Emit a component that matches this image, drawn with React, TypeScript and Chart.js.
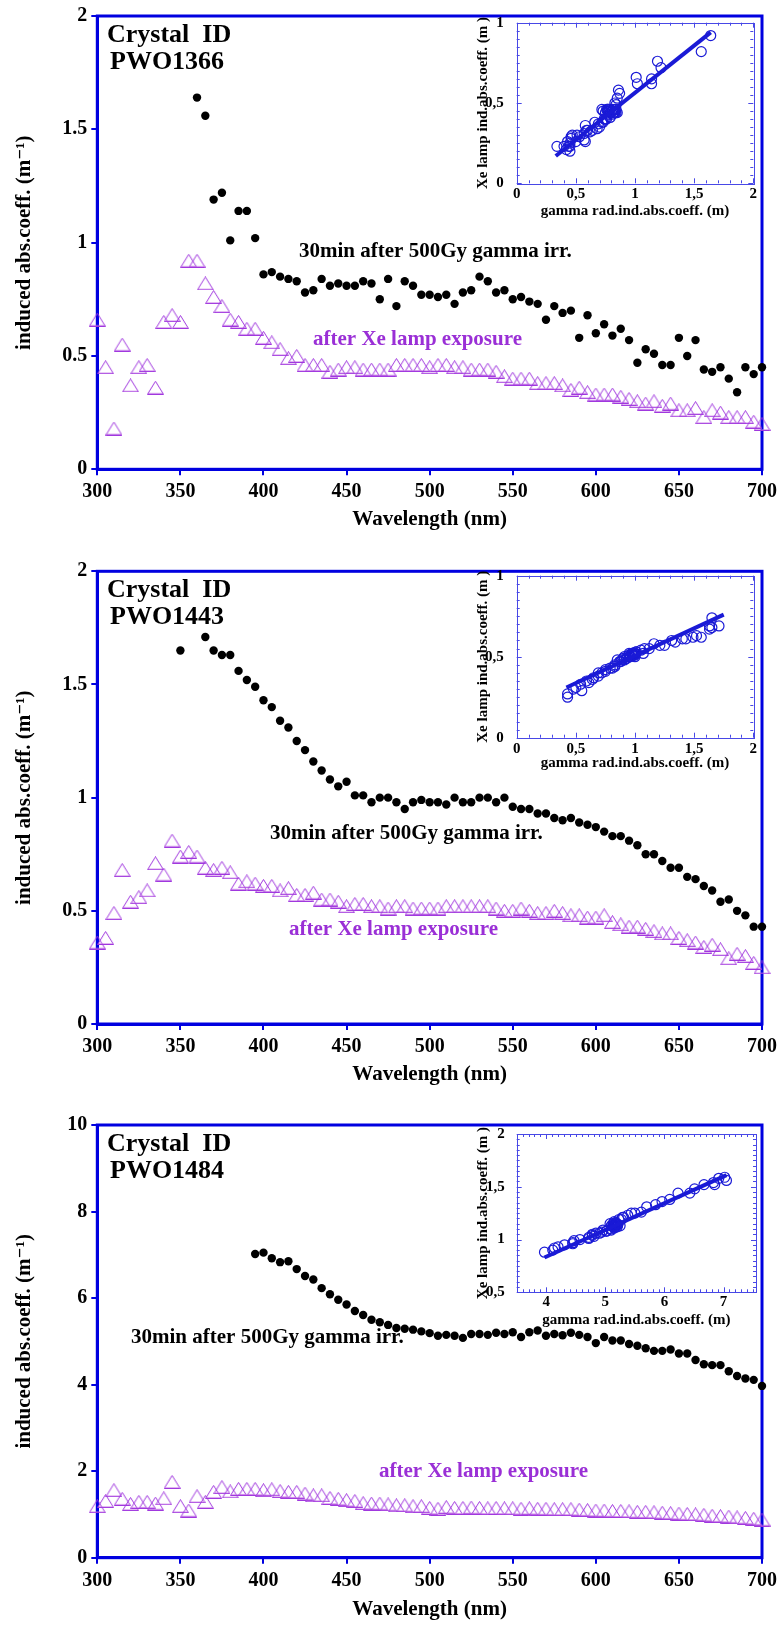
import React, { useEffect, useRef } from 'react';
import { Chart, registerables } from 'chart.js';

Chart.register(...registerables);

const FONT = "'Liberation Serif', 'DejaVu Serif', serif";
const BLUE = '#0000E0';
const PURPLE = '#A038DE';
const PURPLE_TEXT = '#9A2FD6';
const INSET_BLUE = '#1A1AD6';
const INSET_FRAME = '#4848E6';

// ---------- tick labels ----------
const wavelengthTicks = [300, 350, 400, 450, 500, 550, 600, 650, 700];
const yTicksSmall = [0, 0.5, 1, 1.5, 2];
const yTicksLarge = [0, 2, 4, 6, 8, 10];
const insetXTicksA = [0, 0.5, 1, 1.5, 2];
const insetYTicksA = [0, 0.5, 1];
const insetXTicksC = [4, 5, 6, 7];
const insetYTicksC = [0.5, 1, 1.5, 2];

// ---------- categories (wavelength grid, nm) ----------
const STEP_NM = 5;

// ---------- PWO1366 ----------
const gamma1Start = 360;
const gamma1 = [
  1.64, 1.56, 1.19, 1.22, 1.01, 1.14, 1.14, 1.02, 0.86, 0.87,
  0.85, 0.84, 0.83, 0.78, 0.79, 0.84, 0.81, 0.82, 0.81, 0.81,
  0.83, 0.82, 0.75, 0.84, 0.72, 0.83, 0.81, 0.77, 0.77, 0.76,
  0.77, 0.73, 0.78, 0.79, 0.85, 0.83, 0.78, 0.79, 0.75, 0.76,
  0.74, 0.73, 0.66, 0.72, 0.69, 0.70, 0.58, 0.68, 0.60, 0.64,
  0.59, 0.62, 0.57, 0.47, 0.53, 0.51, 0.46, 0.46, 0.58, 0.50,
  0.57, 0.44, 0.43, 0.45, 0.40, 0.34, 0.45, 0.42, 0.45,
];
const xe1Start = 300;
const xe1 = [
  0.66, 0.45, 0.18, 0.55, 0.37, 0.45, 0.46, 0.36, 0.65, 0.68,
  0.65, 0.92, 0.92, 0.82, 0.76, 0.72, 0.66, 0.65, 0.62, 0.62,
  0.58, 0.56, 0.53, 0.49, 0.50, 0.46, 0.46, 0.46, 0.43, 0.44,
  0.45, 0.45, 0.44, 0.44, 0.44, 0.44, 0.46, 0.46, 0.46, 0.46,
  0.45, 0.46, 0.46, 0.45, 0.45, 0.44, 0.44, 0.44, 0.43, 0.41,
  0.40, 0.40, 0.40, 0.38, 0.38, 0.38, 0.37, 0.35, 0.36, 0.34,
  0.33, 0.33, 0.33, 0.32, 0.31, 0.30, 0.29, 0.30, 0.28, 0.29,
  0.26, 0.26, 0.27, 0.23, 0.26, 0.25, 0.23, 0.23, 0.23, 0.21,
  0.20,
];
const fit1X = [0.33, 1.64];
const fit1Y = [0.17, 0.94];

// ---------- PWO1443 ----------
const gamma2Start = 350;
const gamma2 = [
  1.65, null, null, 1.71, 1.65, 1.63, 1.63, 1.56, 1.52, 1.49,
  1.43, 1.40, 1.34, 1.31, 1.25, 1.21, 1.16, 1.12, 1.08, 1.05,
  1.07, 1.01, 1.01, 0.98, 1.00, 1.00, 0.98, 0.95, 0.98, 0.99,
  0.98, 0.98, 0.97, 1.00, 0.98, 0.98, 1.00, 1.00, 0.98, 1.00,
  0.96, 0.95, 0.95, 0.93, 0.93, 0.91, 0.90, 0.91, 0.89, 0.88,
  0.87, 0.85, 0.83, 0.83, 0.81, 0.79, 0.75, 0.75, 0.72, 0.69,
  0.69, 0.65, 0.64, 0.61, 0.59, 0.54, 0.55, 0.50, 0.48, 0.43,
  0.43,
];
const xe2Start = 300;
const xe2 = [
  0.36, 0.38, 0.49, 0.68, 0.54, 0.56, 0.59, 0.71, 0.66, 0.81,
  0.74, 0.76, 0.74, 0.69, 0.68, 0.69, 0.67, 0.62, 0.63, 0.62,
  0.61, 0.61, 0.59, 0.60, 0.57, 0.57, 0.58, 0.55, 0.55, 0.54,
  0.52, 0.53, 0.53, 0.52, 0.52, 0.51, 0.52, 0.52, 0.51, 0.51,
  0.51, 0.51, 0.52, 0.52, 0.52, 0.52, 0.52, 0.52, 0.51, 0.50,
  0.50, 0.51, 0.50, 0.49, 0.49, 0.50, 0.49, 0.48, 0.48, 0.47,
  0.47, 0.48, 0.45, 0.44, 0.43, 0.43, 0.42, 0.41, 0.40, 0.40,
  0.38, 0.37, 0.36, 0.34, 0.35, 0.33, 0.29, 0.31, 0.30, 0.27,
  0.25,
];
const fit2X = [0.42, 1.75];
const fit2Y = [0.31, 0.76];

// ---------- PWO1484 ----------
const gamma3Start = 395;
const gamma3 = [
  7.02, 7.05, 6.92, 6.83, 6.85, 6.67, 6.51, 6.43, 6.23, 6.09,
  5.96, 5.85, 5.70, 5.61, 5.50, 5.44, 5.38, 5.31, 5.29, 5.27,
  5.23, 5.19, 5.13, 5.15, 5.13, 5.08, 5.17, 5.17, 5.15, 5.20,
  5.17, 5.21, 5.10, 5.21, 5.25, 5.13, 5.17, 5.14, 5.20, 5.15,
  5.10, 4.96, 5.10, 5.02, 5.02, 4.94, 4.90, 4.84, 4.78, 4.78,
  4.81, 4.72, 4.72, 4.57, 4.47, 4.45, 4.45, 4.31, 4.20, 4.14,
  4.11, 3.97,
];
const xe3Start = 300;
const xe3 = [
  1.19, 1.31, 1.56, 1.36, 1.24, 1.29, 1.29, 1.25, 1.37, 1.75,
  1.19, 1.09, 1.42, 1.29, 1.52, 1.63, 1.53, 1.59, 1.59, 1.59,
  1.56, 1.58, 1.54, 1.52, 1.52, 1.48, 1.44, 1.44, 1.38, 1.36,
  1.33, 1.31, 1.26, 1.25, 1.25, 1.23, 1.21, 1.21, 1.19, 1.19,
  1.15, 1.13, 1.17, 1.15, 1.15, 1.16, 1.15, 1.14, 1.15, 1.14,
  1.14, 1.13, 1.14, 1.13, 1.13, 1.12, 1.12, 1.12, 1.11, 1.10,
  1.09, 1.09, 1.08, 1.08, 1.07, 1.06, 1.06, 1.05, 1.04, 1.03,
  1.02, 1.01, 1.00, 0.99, 0.97, 0.96, 0.95, 0.93, 0.92, 0.90,
  0.88,
];
const fit3X = [3.97, 7.05];
const fit3Y = [0.83, 1.61];

// ---------- helpers ----------
type Pt = { x: number; y: number };

function series(start: number, values: (number | null)[]): Pt[] {
  const out: Pt[] = [];
  values.forEach((v, i) => {
    if (v !== null) out.push({ x: start + STEP_NM * i, y: v });
  });
  return out;
}

function pairs(gStart: number, g: (number | null)[], xStart: number, xe: (number | null)[]): Pt[] {
  const out: Pt[] = [];
  g.forEach((gv, i) => {
    const wl = gStart + STEP_NM * i;
    const j = Math.round((wl - xStart) / STEP_NM);
    const xv = xe[j];
    if (gv !== null && xv !== undefined && xv !== null) out.push({ x: gv, y: xv });
  });
  return out;
}

function zip(xs: number[], ys: number[]): Pt[] {
  return xs.map((x, i) => ({ x, y: ys[i] }));
}

function makeTriangle(): HTMLCanvasElement {
  const c = document.createElement('canvas');
  c.width = 17;
  c.height = 14;
  const g = c.getContext('2d')!;
  g.strokeStyle = PURPLE;
  g.lineWidth = 1;
  g.beginPath();
  g.moveTo(8.5, 0.5);
  g.lineTo(16.5, 13.5);
  g.lineTo(0.5, 13.5);
  g.closePath();
  g.stroke();
  g.strokeStyle = 'rgba(200,120,230,0.55)';
  g.lineWidth = 1;
  g.beginPath();
  g.moveTo(1, 12.5);
  g.lineTo(16, 12.5);
  g.stroke();
  return c;
}

type Note = { text: string; x: number; y: number; size: number; color: string };

function notesPlugin(notes: Note[]) {
  return {
    id: 'notes',
    afterDraw(chart: any) {
      const ctx = chart.ctx;
      ctx.save();
      notes.forEach((n) => {
        ctx.font = `bold ${n.size}px ${FONT}`;
        ctx.fillStyle = n.color;
        ctx.textBaseline = 'middle';
        ctx.textAlign = 'left';
        ctx.fillText(n.text, n.x, n.y);
      });
      ctx.restore();
    },
  };
}

const mainFramePlugin = {
  id: 'mainFrame',
  beforeDatasetsDraw(chart: any) {
    const { left, top, right, bottom } = chart.chartArea;
    const ctx = chart.ctx;
    ctx.save();
    ctx.strokeStyle = BLUE;
    ctx.lineWidth = 3;
    ctx.strokeRect(left, top, right - left, bottom - top);
    ctx.restore();
  },
};

function insetFramePlugin(xMajor: number[], yMajor: number[], minorX: number, minorY: number) {
  return {
    id: 'insetFrame',
    beforeDatasetsDraw(chart: any) {
      const { left, top, right, bottom } = chart.chartArea;
      const ctx = chart.ctx;
      const xs = chart.scales.x;
      const ys = chart.scales.y;
      ctx.save();
      ctx.strokeStyle = INSET_FRAME;
      ctx.lineWidth = 1;
      ctx.strokeRect(Math.round(left) + 0.5, Math.round(top) + 0.5, Math.round(right - left), Math.round(bottom - top));
      ctx.beginPath();
      const nX = Math.round((xs.max - xs.min) / minorX);
      for (let i = 0; i <= nX; i++) {
        const v = xs.min + i * minorX;
        const px = Math.round(xs.getPixelForValue(v)) + 0.5;
        const major = xMajor.some((m) => Math.abs(m - v) < 1e-6);
        const L = major ? 5 : 3;
        ctx.moveTo(px, bottom);
        ctx.lineTo(px, bottom - L);
        ctx.moveTo(px, top);
        ctx.lineTo(px, top + L);
      }
      const nY = Math.round((ys.max - ys.min) / minorY);
      for (let i = 0; i <= nY; i++) {
        const v = ys.min + i * minorY;
        const py = Math.round(ys.getPixelForValue(v)) + 0.5;
        const major = yMajor.some((m) => Math.abs(m - v) < 1e-6);
        const L = major ? 5 : 3;
        ctx.moveTo(left, py);
        ctx.lineTo(left + L, py);
        ctx.moveTo(right, py);
        ctx.lineTo(right - L, py);
      }
      ctx.stroke();
      ctx.restore();
    },
  };
}

// ---------- panel layout ----------
type MainSpec = {
  top: number;
  height: number;
  padTop: number;
  xAxisH: number;
  titlePadB: number;
  yMax: number;
  yTicks: number[];
  gStart: number;
  gamma: (number | null)[];
  xStart: number;
  xe: (number | null)[];
  notes: Note[];
};

type InsetSpec = {
  top: number;
  padTop: number;
  padRight: number;
  xAxisH: number;
  xTitlePadB: number;
  yTitlePadT: number;
  xLabelPad: number;
  yLabelPad: number;
  xMin: number;
  xMax: number;
  yMin: number;
  yMax: number;
  xTicks: number[];
  yTicks: number[];
  pts: Pt[];
  fit: Pt[];
};

const crystalNotes = (id: string, top: number): Note[] => [
  { text: 'Crystal  ID', x: 107, y: top, size: 26, color: '#000' },
  { text: id, x: 110, y: top + 27, size: 26, color: '#000' },
];

const NOTE_SIZE = 21;

const mainSpecs: MainSpec[] = [
  {
    top: 0, height: 540, padTop: 16, xAxisH: 70.7, titlePadB: 8, yMax: 2, yTicks: yTicksSmall,
    gStart: gamma1Start, gamma: gamma1, xStart: xe1Start, xe: xe1,
    notes: [
      ...crystalNotes('PWO1366', 35),
      { text: '30min after 500Gy gamma irr.', x: 299, y: 252, size: NOTE_SIZE, color: '#000' },
      { text: 'after Xe lamp exposure', x: 313, y: 340, size: NOTE_SIZE, color: PURPLE_TEXT },
    ],
  },
  {
    top: 555, height: 540, padTop: 16.3, xAxisH: 71, titlePadB: 8, yMax: 2, yTicks: yTicksSmall,
    gStart: gamma2Start, gamma: gamma2, xStart: xe2Start, xe: xe2,
    notes: [
      ...crystalNotes('PWO1443', 35),
      { text: '30min after 500Gy gamma irr.', x: 270, y: 279, size: NOTE_SIZE, color: '#000' },
      { text: 'after Xe lamp exposure', x: 289, y: 375, size: NOTE_SIZE, color: PURPLE_TEXT },
    ],
  },
  {
    top: 1109, height: 520, padTop: 16, xAxisH: 71.3, titlePadB: 7, yMax: 10, yTicks: yTicksLarge,
    gStart: gamma3Start, gamma: gamma3, xStart: xe3Start, xe: xe3,
    notes: [
      ...crystalNotes('PWO1484', 35.5),
      { text: '30min after 500Gy gamma irr.', x: 131, y: 229, size: NOTE_SIZE, color: '#000' },
      { text: 'after Xe lamp exposure', x: 379, y: 363, size: NOTE_SIZE, color: PURPLE_TEXT },
    ],
  },
];

const insetSpecs: InsetSpec[] = [
  {
    top: 5, padTop: 17.7, padRight: 16.7, xAxisH: 41.7, xTitlePadB: 5.3, yTitlePadT: 19, xLabelPad: -6, yLabelPad: 5,
    xMin: 0, xMax: 2, yMin: 0, yMax: 1, xTicks: insetXTicksA, yTicks: insetYTicksA,
    pts: pairs(gamma1Start, gamma1, xe1Start, xe1), fit: zip(fit1X, fit1Y),
  },
  {
    top: 560, padTop: 15.7, padRight: 16.7, xAxisH: 42.3, xTitlePadB: 7.7, yTitlePadT: 19.3, xLabelPad: -6, yLabelPad: 5,
    xMin: 0, xMax: 2, yMin: 0, yMax: 1, xTicks: insetXTicksA, yTicks: insetYTicksA,
    pts: pairs(gamma2Start, gamma2, xe2Start, xe2), fit: zip(fit2X, fit2Y),
  },
  {
    top: 1114, padTop: 20, padRight: 14, xAxisH: 41.7, xTitlePadB: 5, yTitlePadT: 19.3, xLabelPad: -7, yLabelPad: 4,
    xMin: 3.5, xMax: 7.55, yMin: 0.5, yMax: 2, xTicks: insetXTicksC, yTicks: insetYTicksC,
    pts: pairs(gamma3Start, gamma3, xe3Start, xe3), fit: zip(fit3X, fit3Y),
  },
];

const CANVAS_W = 782;
const INSET_LEFT = 455;
const INSET_W = 315;
const INSET_H = 220;

const tickFont = { family: FONT, size: 20, weight: 'bold' as const };
const titleFont = { family: FONT, size: 21, weight: 'bold' as const };
const insetFont = { family: FONT, size: 15, weight: 'bold' as const };

function mainConfig(s: MainSpec): any {
  return {
    type: 'scatter',
    data: {
      datasets: [
        {
          data: series(s.gStart, s.gamma),
          pointStyle: 'circle',
          pointRadius: 4.2,
          backgroundColor: '#000',
          borderColor: '#000',
          borderWidth: 0,
          clip: false,
        },
        {
          data: series(s.xStart, s.xe),
          pointStyle: makeTriangle(),
          pointRadius: 8,
          borderWidth: 0,
          clip: false,
        },
      ],
    },
    options: {
      animation: false,
      responsive: false,
      events: [],
      layout: { padding: { top: s.padTop, right: 16, left: 0, bottom: 0 } },
      plugins: { legend: { display: false }, tooltip: { enabled: false } },
      scales: {
        x: {
          type: 'linear',
          min: 300,
          max: 700,
          afterBuildTicks: (sc: any) => {
            sc.ticks = wavelengthTicks.map((v) => ({ value: v }));
          },
          afterFit: (sc: any) => {
            sc.height = s.xAxisH;
          },
          grid: { drawOnChartArea: false, drawTicks: true, tickLength: 6, color: BLUE, lineWidth: 2 },
          border: { display: true, color: BLUE, width: 3 },
          ticks: { color: '#000', font: tickFont, padding: 5, maxRotation: 0, autoSkip: false, callback: (v: any) => String(v) },
          title: { display: true, text: 'Wavelength (nm)', color: '#000', font: titleFont, padding: { top: 0, bottom: s.titlePadB } },
        },
        y: {
          type: 'linear',
          min: 0,
          max: s.yMax,
          afterBuildTicks: (sc: any) => {
            sc.ticks = s.yTicks.map((v) => ({ value: v }));
          },
          afterFit: (sc: any) => {
            sc.width = 97.3;
          },
          grid: { drawOnChartArea: false, drawTicks: true, tickLength: 6, color: BLUE, lineWidth: 2 },
          border: { display: true, color: BLUE, width: 3 },
          ticks: { color: '#000', font: tickFont, padding: 4, autoSkip: false, callback: (v: any) => String(v) },
          title: { display: true, text: 'induced abs.coeff. (m\u207B\u00B9)', color: '#000', font: titleFont, padding: { top: 12, bottom: 0 } },
        },
      },
    },
    plugins: [mainFramePlugin, notesPlugin(s.notes)],
  };
}

function insetConfig(s: InsetSpec): any {
  const comma = (v: any) => String(v).replace('.', ',');
  return {
    type: 'scatter',
    data: {
      datasets: [
        {
          data: s.fit,
          showLine: true,
          borderColor: INSET_BLUE,
          borderWidth: 4,
          pointRadius: 0,
          clip: false,
        },
        {
          data: s.pts,
          pointStyle: 'circle',
          pointRadius: 5,
          borderColor: INSET_BLUE,
          backgroundColor: 'rgba(0,0,0,0)',
          borderWidth: 1.2,
          clip: false,
        },
      ],
    },
    options: {
      animation: false,
      responsive: false,
      events: [],
      layout: { padding: { top: s.padTop, right: s.padRight, left: 0, bottom: 0 } },
      plugins: { legend: { display: false }, tooltip: { enabled: false } },
      scales: {
        x: {
          type: 'linear',
          min: s.xMin,
          max: s.xMax,
          afterBuildTicks: (sc: any) => {
            sc.ticks = s.xTicks.map((v) => ({ value: v }));
          },
          afterFit: (sc: any) => {
            sc.height = s.xAxisH;
          },
          grid: { display: false },
          border: { display: false },
          ticks: { color: '#000', font: insetFont, padding: s.xLabelPad, maxRotation: 0, autoSkip: false, callback: comma },
          title: { display: true, text: 'gamma rad.ind.abs.coeff. (m)', color: '#000', font: insetFont, padding: { top: 0, bottom: s.xTitlePadB } },
        },
        y: {
          type: 'linear',
          min: s.yMin,
          max: s.yMax,
          afterBuildTicks: (sc: any) => {
            sc.ticks = s.yTicks.map((v) => ({ value: v }));
          },
          afterFit: (sc: any) => {
            sc.width = 516.7 - INSET_LEFT;
          },
          grid: { display: false },
          border: { display: false },
          ticks: { color: '#000', font: insetFont, padding: s.yLabelPad, autoSkip: false, callback: comma },
          title: { display: true, text: 'Xe lamp ind.abs.coeff. (m )', color: '#000', font: insetFont, padding: { top: s.yTitlePadT, bottom: 0 } },
        },
      },
    },
    plugins: [insetFramePlugin(s.xTicks, s.yTicks, 0.1, 0.05)],
  };
}

function ChartCanvas(props: { left: number; top: number; width: number; height: number; make: () => any }) {
  const ref = useRef<HTMLCanvasElement | null>(null);
  useEffect(() => {
    if (!ref.current) return;
    const chart = new Chart(ref.current, props.make());
    return () => chart.destroy();
  }, []);
  return (
    <canvas
      ref={ref}
      width={props.width}
      height={props.height}
      style={{ position: 'absolute', left: props.left, top: props.top, width: props.width, height: props.height }}
    />
  );
}

export default function App() {
  return (
    <div style={{ position: 'absolute', left: 0, top: 0, width: 782, height: 1647, background: '#fff', overflow: 'hidden' }}>
      {mainSpecs.map((s, i) => (
        <ChartCanvas key={'m' + i} left={0} top={s.top} width={CANVAS_W} height={s.height} make={() => mainConfig(s)} />
      ))}
      {insetSpecs.map((s, i) => (
        <ChartCanvas key={'i' + i} left={INSET_LEFT} top={s.top} width={INSET_W} height={INSET_H} make={() => insetConfig(s)} />
      ))}
    </div>
  );
}
